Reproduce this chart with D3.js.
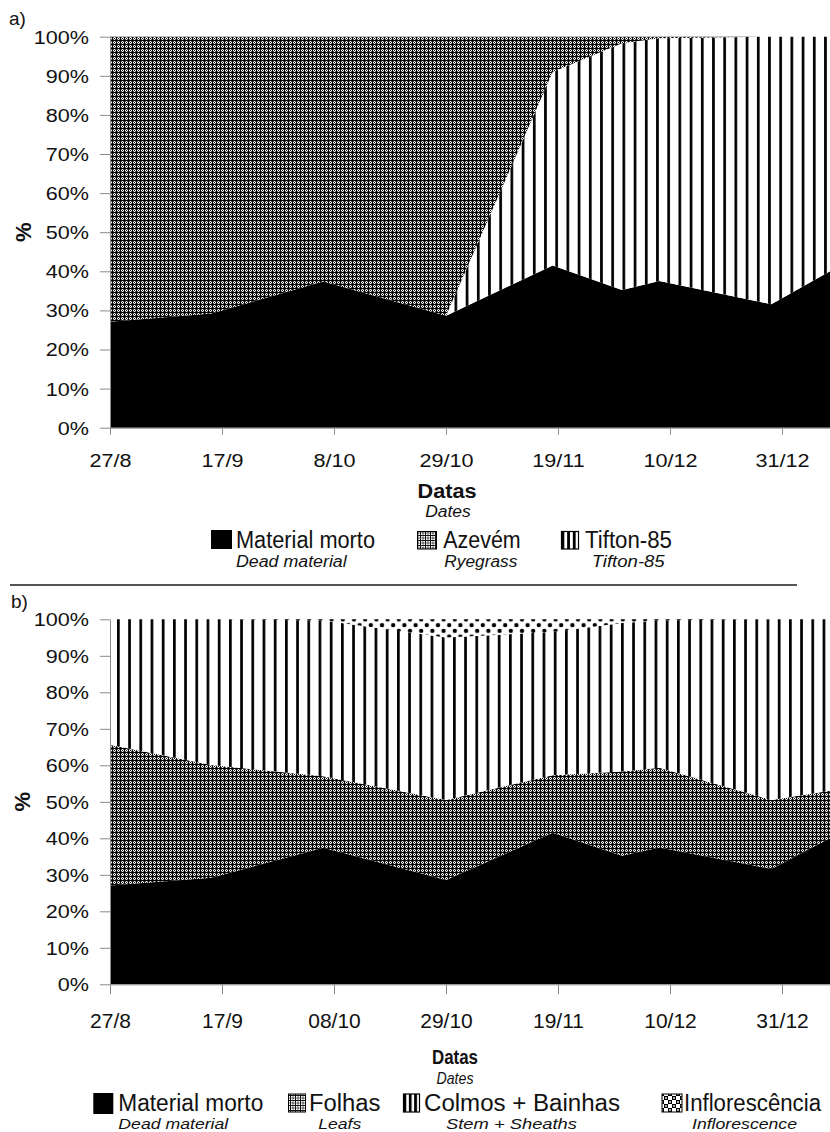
<!DOCTYPE html>
<html><head><meta charset="utf-8">
<script src="https://cdn.jsdelivr.net/npm/d3@7"></script>
<style>
body{margin:0;background:#fff}
svg{display:block}
text{font-family:"Liberation Sans", Arial, sans-serif; fill:#111}
</style>
</head><body>
<svg id="c" width="830" height="1132"></svg>
<script>
// ---------------- DATA ----------------
const sampleDates   = ["2008-08-27","2008-09-15","2008-10-06","2008-10-29","2008-11-18","2008-12-01","2008-12-08","2008-12-29","2009-01-09"];
const deadMaterial  = [27.1, 29.2, 37.4, 28.6, 41.5, 35.2, 37.5, 31.6, 40.0];
// panel a
const tifton85      = [0, 0, 0, 0, 49.5, 63.1, 62.1, 68.4, 60.0];
const ryegrass      = [72.9, 70.8, 62.6, 71.4, 9.0, 1.7, 0.4, 0, 0];
// panel b
const leaves        = [38.5, 30.9, 19.6, 21.9, 15.8, 23.1, 21.8, 18.9, 13.0];
const stemSheaths   = [34.4, 39.9, 42.7, 44.5, 39.2, 40.7, 40.4, 49.5, 47.0];
const inflorescence = [0, 0, 0.3, 5.0, 3.5, 1.0, 0.3, 0, 0];

const domainDates = ["2008-08-27","2009-01-09"];
const tickDates   = ["2008-08-27","2008-09-17","2008-10-08","2008-10-29","2008-11-19","2008-12-10","2008-12-31"];
const tickLabelsA = ["27/8","17/9","8/10","29/10","19/11","10/12","31/12"];
const tickLabelsB = ["27/8","17/9","08/10","29/10","19/11","10/12","31/12"];
const yTicks      = [0,10,20,30,40,50,60,70,80,90,100];

const legendA    = ["Material morto","Azevém","Tifton-85"];
const legendASub = ["Dead material","Ryegrass","Tifton-85"];
const legendB    = ["Material morto","Folhas","Colmos + Bainhas","Inflorescência"];
const legendBSub = ["Dead material","Leafs","Stem + Sheaths","Inflorescence"];

// ---------------- SETUP ----------------
const parse = d3.utcParse("%Y-%m-%d");
const svg = d3.select("#c");
const defs = svg.append("defs");

// dense ring-grid pattern (ryegrass / leaves)
const pc = defs.append("pattern").attr("id","circ").attr("patternUnits","userSpaceOnUse")
  .attr("width",4).attr("height",4);
pc.append("rect").attr("width",4).attr("height",4).attr("fill","#fff");
pc.append("rect").attr("width",4).attr("height",1).attr("fill","#000");
pc.append("rect").attr("width",1).attr("height",4).attr("fill","#000");
pc.append("rect").attr("x",2).attr("y",2).attr("width",1).attr("height",1).attr("fill","#000");
[[1,1],[3,1],[1,3],[3,3]].forEach(p=>pc.append("rect").attr("x",p[0]).attr("y",p[1]).attr("width",1).attr("height",1).attr("fill","#5a5a5a"));

// vertical lines pattern (tifton / stems)
function vlines(id, offset){
  const p = defs.append("pattern").attr("id",id).attr("patternUnits","userSpaceOnUse")
    .attr("width",11.2).attr("height",10).attr("patternTransform",`translate(${offset},0)`);
  p.append("rect").attr("width",11.2).attr("height",10).attr("fill","#fff");
  p.append("rect").attr("width",2.7).attr("height",10).attr("fill","#000");
}
vlines("vlA", 6.5);
vlines("vlB", 5);

// dotted pattern (inflorescence)
const pd = defs.append("pattern").attr("id","dots").attr("patternUnits","userSpaceOnUse")
  .attr("width",11.2).attr("height",11.4).attr("patternTransform","translate(4,1)");
pd.append("rect").attr("width",11.2).attr("height",11.4).attr("fill","#fff");
pd.append("circle").attr("cx",2.8).attr("cy",2.85).attr("r",2.2).attr("fill","#000");
pd.append("circle").attr("cx",8.4).attr("cy",8.55).attr("r",2.2).attr("fill","#000");

// legend swatch patterns
const lc = defs.append("pattern").attr("id","circL").attr("patternUnits","userSpaceOnUse")
  .attr("width",5).attr("height",5);
lc.append("rect").attr("width",5).attr("height",5).attr("fill","#fff");
lc.append("rect").attr("width",5).attr("height",1).attr("fill","#111");
lc.append("rect").attr("width",1).attr("height",5).attr("fill","#111");
lc.append("circle").attr("cx",3).attr("cy",3).attr("r",1.1).attr("fill","none").attr("stroke","#222").attr("stroke-width",0.8);
const lv = defs.append("pattern").attr("id","vlL").attr("patternUnits","objectBoundingBox")
  .attr("width",1/3).attr("height",1);
lv.append("rect").attr("width",20).attr("height",30).attr("fill","#fff");
lv.append("rect").attr("width",2.8).attr("height",30).attr("fill","#000");
const lk = defs.append("pattern").attr("id","chkL").attr("patternUnits","userSpaceOnUse")
  .attr("width",8).attr("height",8);
lk.append("rect").attr("width",8).attr("height",8).attr("fill","#fff");
lk.append("rect").attr("width",4).attr("height",4).attr("fill","#000");
lk.append("rect").attr("x",4).attr("y",4).attr("width",4).attr("height",4).attr("fill","#000");
lk.append("circle").attr("cx",2).attr("cy",2).attr("r",0.9).attr("fill","#fff");
lk.append("circle").attr("cx",6).attr("cy",6).attr("r",0.9).attr("fill","#fff");

function txt(parent, s, x, y, o={}){
  const t = parent.append("text").attr("x",x).attr("y",y).text(s)
    .style("font-size",o.size+"px")
    .style("font-weight",o.weight||"normal")
    .style("font-style",o.style||"normal")
    .attr("text-anchor",o.anchor||"start");
  if(o.len) t.attr("textLength",o.len).attr("lengthAdjust","spacingAndGlyphs");
  return t;
}
function stretch(sel, sx){
  sel.each(function(){
    const w = this.getComputedTextLength();
    d3.select(this).attr("textLength", w*sx).attr("lengthAdjust","spacingAndGlyphs");
  });
}

const x = d3.scaleUtc().domain(domainDates.map(parse)).range([110, 830]);

function panel(cfg){
  const y = d3.scaleLinear().domain([0,100]).range([cfg.y0, cfg.y1]);
  const rows = sampleDates.map((d,i)=>{
    const r = {date: parse(d)};
    cfg.series.forEach(s=>{ r[s.key] = s.values[i]; });
    return r;
  });
  const stack = d3.stack().keys(cfg.series.map(s=>s.key));
  const layers = stack(rows);
  const area = d3.area().x(d=>x(d.data.date)).y0(d=>y(d[0])).y1(d=>y(d[1]));
  const g = svg.append("g");
  g.selectAll("path.layer").data(layers).join("path").attr("class","layer")
    .attr("d",area)
    .attr("fill",(d,i)=>cfg.series[i].fill);

  // y axis
  const ya = g.append("g").attr("transform","translate(110,0)")
    .call(d3.axisLeft(y).tickValues(yTicks).tickFormat(d=>d+"%").tickSize(10).tickPadding(11).tickSizeOuter(0));
  ya.select(".domain").attr("stroke","#8a8a8a");
  ya.selectAll(".tick line").attr("stroke","#8a8a8a");
  ya.selectAll("text").style("font-size","18px").attr("fill","#111").attr("dy","0.36em")
    .style("font-family","'Liberation Sans', Arial, sans-serif");
  stretch(ya.selectAll("text"), 1.2);

  // x axis
  const xa = g.append("g").attr("transform",`translate(0,${cfg.y0})`)
    .call(d3.axisBottom(x).tickValues(tickDates.map(parse)).tickFormat((d,i)=>cfg.tickLabels[i])
      .tickSize(cfg.xTick).tickPadding(cfg.xPad).tickSizeOuter(0));
  xa.select(".domain").attr("stroke","#8a8a8a");
  xa.selectAll(".tick line").attr("stroke","#8a8a8a");
  xa.selectAll("text").style("font-size",cfg.xFont+"px").attr("fill","#111")
    .style("font-family","'Liberation Sans', Arial, sans-serif");
  stretch(xa.selectAll("text"), cfg.xStretch);

  // y title
  txt(g, "%", 0, 0, {size:22, weight:"bold", anchor:"middle"})
    .attr("transform",`translate(${cfg.pctX},${(cfg.y0+cfg.y1)/2}) rotate(-90)`).attr("dy","0.36em");
  // panel letter
  txt(g, cfg.letter, cfg.letterX, cfg.letterY, {size:19});
  // x title
  txt(g, "Datas", cfg.titleX, cfg.titleY, {size:cfg.titleSize, weight:"bold", anchor:"middle", len:cfg.titleLen});
  txt(g, "Dates", cfg.subX, cfg.subY, {size:cfg.subSize, style:"italic", anchor:"middle", len:cfg.subLen});

  // legend
  cfg.legend.forEach((it,i)=>{
    g.append("rect").attr("x",it.sx).attr("y",it.sy).attr("width",it.sw).attr("height",it.sh)
      .attr("fill",it.fill).attr("stroke","#000").attr("stroke-width",it.stroke||0);
    txt(g, cfg.labels[i], it.tx, it.ty, {size:it.size, len:it.len});
    txt(g, cfg.subs[i], it.ux, it.uy, {size:it.usize, style:"italic", len:it.ulen});
  });
  return g;
}

// panel a
panel({
  y0: 427.7, y1: 36.7,
  series: [
    {key:"dead", values: deadMaterial, fill:"#000"},
    {key:"tifton", values: tifton85, fill:"url(#vlA)"},
    {key:"rye", values: ryegrass, fill:"url(#circ)"}
  ],
  tickLabels: tickLabelsA, xTick: 7, xPad: 20, xFont: 18, xStretch: 1.2,
  pctX: 23, letter: "a)", letterX: 9, letterY: 25,
  titleX: 447, titleY: 498.3, titleSize: 19.5, titleLen: 59,
  subX: 448, subY: 517.3, subSize: 15.8, subLen: 45.7,
  labels: legendA, subs: legendASub,
  legend: [
    {sx:211, sy:530, sw:21, sh:19, fill:"#000", tx:236, ty:548, size:23, len:139, ux:236, uy:567, usize:16, ulen:110.7},
    {sx:417.5, sy:531.5, sw:19, sh:17.5, fill:"url(#circL)", stroke:1, tx:443.3, ty:548, size:23, len:77.4, ux:444.3, uy:567, usize:16, ulen:73},
    {sx:561.5, sy:531.5, sw:17, sh:17.5, fill:"url(#vlL)", stroke:1.2, tx:585, ty:548, size:23, len:87, ux:591.7, uy:567, usize:16, ulen:73}
  ]
});

// separator
svg.append("line").attr("x1",10).attr("x2",797).attr("y1",585).attr("y2",585)
  .attr("stroke","#555").attr("stroke-width",2);

// panel b
panel({
  y0: 984.3, y1: 619.3,
  series: [
    {key:"dead", values: deadMaterial, fill:"#000"},
    {key:"leaves", values: leaves, fill:"url(#circ)"},
    {key:"stems", values: stemSheaths, fill:"url(#vlB)"},
    {key:"infl", values: inflorescence, fill:"url(#dots)"}
  ],
  tickLabels: tickLabelsB, xTick: 10, xPad: 19, xFont: 21, xStretch: 1.0,
  pctX: 22.5, letter: "b)", letterX: 11, letterY: 608,
  titleX: 455, titleY: 1064, titleSize: 21, titleLen: 46,
  subX: 455, subY: 1084, subSize: 17, subLen: 37,
  labels: legendB, subs: legendBSub,
  legend: [
    {sx:93.3, sy:1093, sw:20, sh:21, fill:"#000", tx:118.3, ty:1111, size:23, len:145, ux:118.3, uy:1129, usize:14, ulen:110},
    {sx:288.5, sy:1094, sw:17, sh:18, fill:"url(#circL)", stroke:1, tx:309, ty:1111, size:23, len:71.5, ux:318.3, uy:1129, usize:14, ulen:43},
    {sx:403.5, sy:1094, sw:16, sh:18, fill:"url(#vlL)", stroke:1.2, tx:424, ty:1111, size:23, len:196, ux:446, uy:1129, usize:14, ulen:131},
    {sx:662, sy:1094, sw:20, sh:18, fill:"url(#chkL)", stroke:1, tx:684, ty:1111, size:23, len:137, ux:692, uy:1129, usize:14, ulen:105}
  ]
});
</script>
</body></html>
